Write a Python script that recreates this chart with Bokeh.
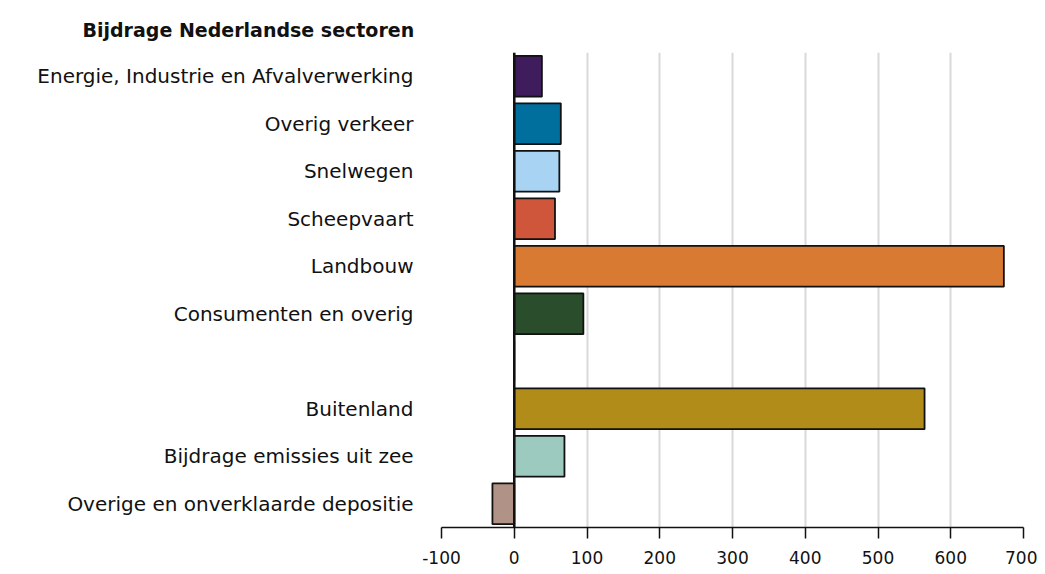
from bokeh.plotting import figure
from bokeh.models import ColumnDataSource, Span, FixedTicker, PrintfTickFormatter
from bokeh.embed import file_html
from bokeh.resources import INLINE

categories = [
    "Energie, Industrie en Afvalverwerking",
    "Overig verkeer",
    "Snelwegen",
    "Scheepvaart",
    "Landbouw",
    "Consumenten en overig",
    " ",
    "Buitenland",
    "Bijdrage emissies uit zee",
    "Overige en onverklaarde depositie",
]
values = [38, 64, 62, 56, 673, 95, 0, 564, 69, -30]
colors = ["#3f1c5c", "#006f9e", "#a9d3f3", "#d0563b", "#d87a32",
          "#2a4d2c", "#000000", "#b18c19", "#9dcabe", "#b09386"]
x_ticks = [-100, 0, 100, 200, 300, 400, 500, 600, 700]

FONT = "DejaVu Sans"

src = ColumnDataSource(dict(cat=categories, val=values, col=colors))

p = figure(width=1037, height=566, y_range=list(reversed(categories)),
           x_range=(-100, 700), output_backend="svg", toolbar_location=None,
           min_border_left=441, min_border_right=14, min_border_top=52,
           min_border_bottom=39, title="Bijdrage Nederlandse sectoren")
p.outline_line_color = None

p.title.align = "left"
p.title.offset = -359
p.title.standoff = 23
p.title.text_font = FONT
p.title.text_font_style = "bold"
p.title.text_font_size = "19px"
p.title.text_color = "#111111"

p.hbar(y="cat", right="val", left=0, height=0.86, fill_color="col",
       line_color="#111111", line_width=1.8, source=src)

p.add_layout(Span(location=0, dimension="height", line_color="#111111", line_width=2.5))

p.xaxis.ticker = FixedTicker(ticks=x_ticks)
p.xaxis.formatter = PrintfTickFormatter(format="%d")
p.xaxis.axis_line_color = "#111111"
p.xaxis.axis_line_width = 1.5
p.xaxis.major_tick_line_color = "#111111"
p.xaxis.major_tick_line_width = 1.5
p.xaxis.major_tick_out = 11
p.xaxis.major_tick_in = 0
p.xaxis.minor_tick_line_color = None
p.xaxis.major_label_text_font = FONT
p.xaxis.major_label_text_font_size = "17px"
p.xaxis.major_label_text_color = "#111111"
p.xaxis.major_label_standoff = 12

p.yaxis.axis_line_color = None
p.yaxis.major_tick_line_color = None
p.yaxis.minor_tick_line_color = None
p.yaxis.major_label_text_font = FONT
p.yaxis.major_label_text_font_size = "20px"
p.yaxis.major_label_text_color = "#111111"
p.yaxis.major_label_standoff = 22

p.ygrid.grid_line_color = None
p.xgrid.ticker = FixedTicker(ticks=x_ticks)
p.xgrid.grid_line_color = "#d9d9d9"
p.xgrid.grid_line_width = 2

open("out.html", "w").write(file_html(p, INLINE))
